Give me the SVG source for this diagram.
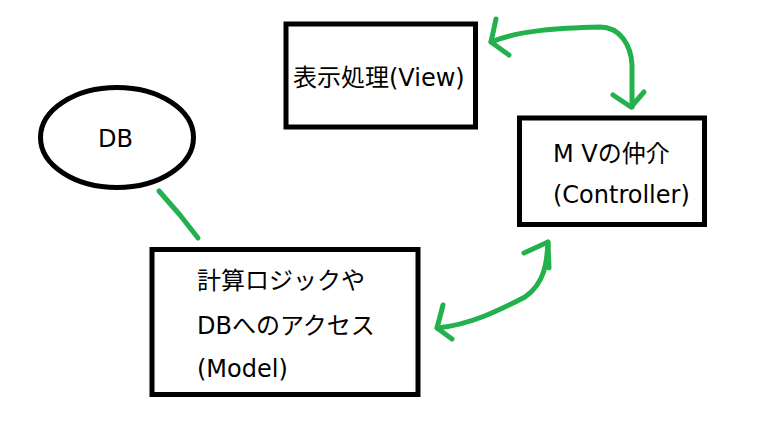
<svg xmlns="http://www.w3.org/2000/svg" width="782" height="430" viewBox="0 0 782 430">
<style>
.box{fill:#fff;stroke:#000;stroke-width:5}
.t{font-family:"DejaVu Sans","Noto Sans CJK JP",sans-serif;font-size:24px;fill:#000}
.c{fill:none;stroke:#22b14c;stroke-width:5;stroke-linecap:round;stroke-linejoin:round}
</style>
<rect width="782" height="430" fill="#fff"/>
<g id="connectors">
<path class="c" d="M159,191 L180,215 L198,238"/>
<path class="c" d="M491,42 C520,30 560,28 600,27 C620,27 631,45 632,65 L632,107"/>
<path class="c" d="M496,19 L491,42 L509,55"/>
<path class="c" d="M613,95 L631,107 L644,92"/>
<path class="c" d="M437,328 C470,325 500,310 525,297 C545,283 547,262 548,242"/>
<path class="c" d="M443,305 L437,328 L452,339"/>
<path class="c" d="M524,253 L548,242 L549,268"/>
</g>
<g id="db">
<ellipse class="box" cx="117" cy="137.5" rx="76.5" ry="50"/>
<text class="t" x="98" y="147">DB</text>
</g>
<g id="view">
<rect class="box" x="286" y="24" width="189.5" height="103"/>
<text class="t" x="293" y="86">表示処理(View)</text>
</g>
<g id="controller">
<rect class="box" x="519.5" y="118" width="185" height="106.5"/>
<text class="t" x="553" y="162">M Vの仲介</text>
<text class="t" x="553" y="203">(Controller)</text>
</g>
<g id="model">
<rect class="box" x="152" y="249.5" width="266" height="145"/>
<text class="t" x="197" y="289">計算ロジックや</text>
<text class="t" x="197" y="334">DBへのアクセス</text>
<text class="t" x="197" y="377">(Model)</text>
</g>
</svg>
